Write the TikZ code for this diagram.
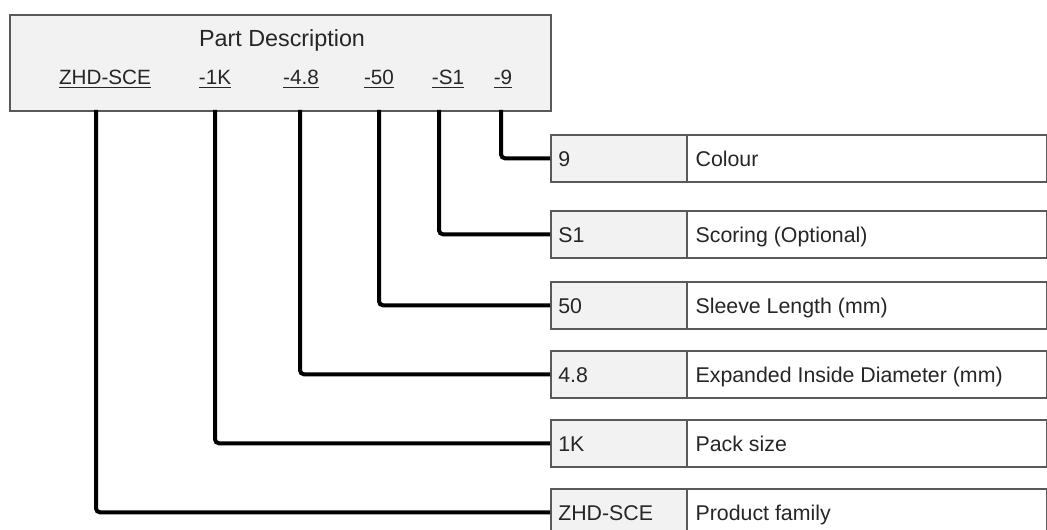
\documentclass[tikz,border=0pt]{standalone}
\usepackage{fontspec}
\setmainfont{Liberation Sans}
\begin{document}
\begin{tikzpicture}[x=0.75pt,y=-0.75pt,
  txt/.style={text=black!85, font=\fontsize{15.5pt}{18pt}\selectfont},
  topbox/.style={draw=black!65, line width=1.5pt, fill=black!5},
  codecell/.style={draw=black!65, line width=1.2pt, fill=black!5, anchor=north west,
     minimum width=136*0.75pt, minimum height=47*0.75pt, inner sep=0pt},
  desccell/.style={draw=black!65, line width=1.2pt, fill=white, anchor=north west,
     minimum width=360*0.75pt, minimum height=47*0.75pt, inner sep=0pt},
  celltext/.style={txt, font=\fontsize{16pt}{19pt}\selectfont, anchor=base west, inner sep=0pt},
  conn/.style={draw=black, line width=3pt, rounded corners=3pt}]
\useasboundingbox (0,0) rectangle (1047,530);
\clip (0,0) rectangle (1047,530);
\fill[white] (0,0) rectangle (1047,530);
% top box
\node[topbox, anchor=north west, minimum width=541*0.75pt, minimum height=96*0.75pt, inner sep=0pt] (pd) at (9,14) {};
\node[txt, font=\fontsize{17.5pt}{20pt}\selectfont, anchor=base] (title) at (282,47) {Part Description};
\node[txt, anchor=base] (c1) at (105,85) {\underline{ZHD-SCE}};
\node[txt, anchor=base] (c2) at (215,85) {\underline{-1K}};
\node[txt, anchor=base] (c3) at (301,85) {\underline{-4.8}};
\node[txt, anchor=base] (c4) at (379,85) {\underline{-50}};
\node[txt, anchor=base] (c5) at (448,85) {\underline{-S1}};
\node[txt, anchor=base] (c6) at (503,85) {\underline{-9}};
% connector start points on the bottom of the top box
\coordinate (t1) at (96,110);
\coordinate (t2) at (215,110);
\coordinate (t3) at (300,110);
\coordinate (t4) at (379,110);
\coordinate (t5) at (439,110);
\coordinate (t6) at (501,110);
% right table rows
\foreach \i/\y/\code/\desc in {1/134/9/Colour, 2/210/S1/Scoring (Optional), 3/281/50/Sleeve Length (mm), 4/350/4.8/Expanded Inside Diameter (mm), 5/419/1K/Pack size, 6/488/ZHD-SCE/Product family}{
  \node[codecell] (k\i) at (550,\y) {};
  \node[desccell] (d\i) at (686,\y) {};
  \node[celltext] (kt\i) at ([xshift=6pt,yshift=-5.8pt]k\i.west) {\code};
  \node[celltext] (dt\i) at ([xshift=7pt,yshift=-5.8pt]d\i.west) {\desc};
}
% connectors
\draw[conn] (t6) |- (k1.west);
\draw[conn] (t5) |- (k2.west);
\draw[conn] (t4) |- (k3.west);
\draw[conn] (t3) |- (k4.west);
\draw[conn] (t2) |- (k5.west);
\draw[conn] (t1) |- (k6.west);
\end{tikzpicture}
\end{document}
